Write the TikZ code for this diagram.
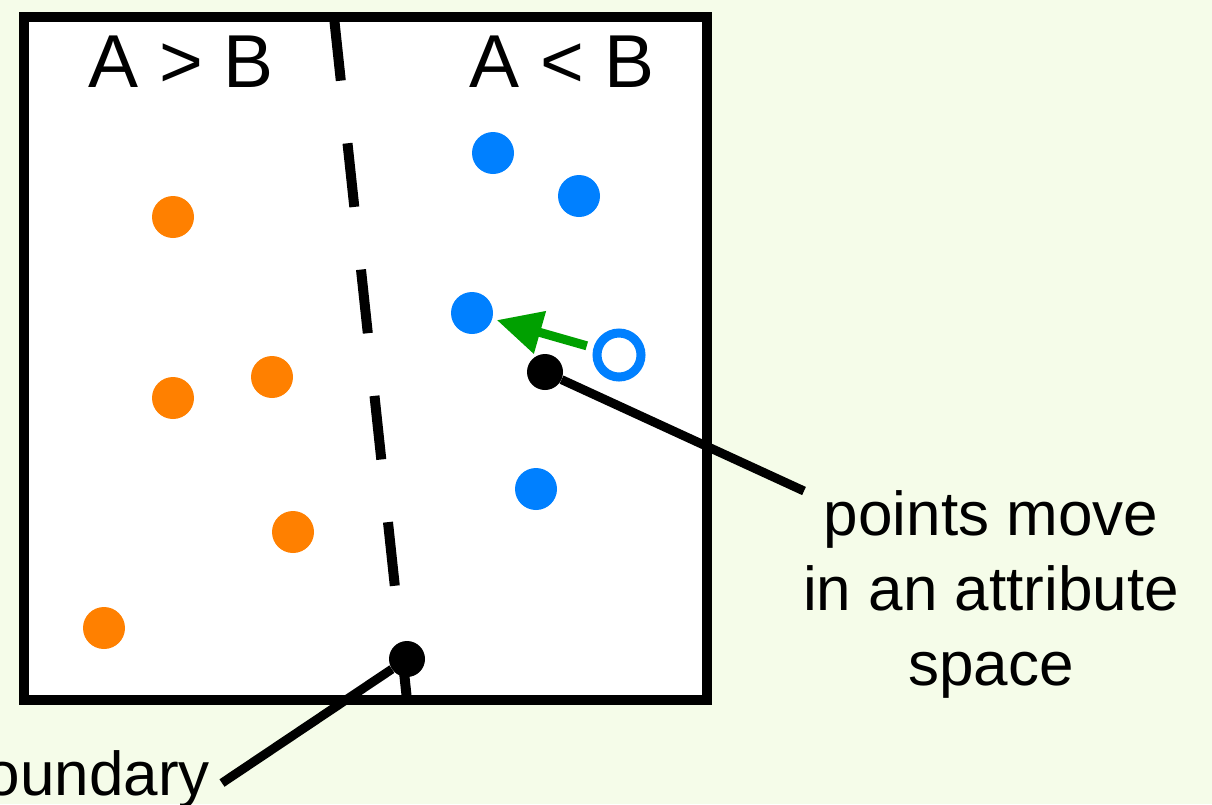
\documentclass[tikz,border=0pt]{standalone}
\usepackage{fontspec}
\setmainfont{Liberation Sans}
\usetikzlibrary{arrows.meta}
\definecolor{bgc}{RGB}{245,252,233}
\definecolor{dotorange}{RGB}{255,128,0}
\definecolor{dotblue}{RGB}{0,128,255}
\definecolor{arrowgreen}{RGB}{0,160,0}
\begin{document}
\begin{tikzpicture}[x=1pt,y=-1pt,
  odot/.style={circle,fill=dotorange,minimum size=42pt,inner sep=0pt},
  bdot/.style={circle,fill=dotblue,minimum size=42pt,inner sep=0pt},
  ringdot/.style={circle,draw=dotblue,line width=9pt,fill=white,minimum size=44pt,inner sep=0pt},
  pindot/.style={circle,fill=black,minimum size=36pt,inner sep=0pt},
  pointer/.style={line width=9pt},
  lbl/.style={font=\fontsize{62}{75}\selectfont,inner sep=0pt},
  head/.style={font=\fontsize{75}{90}\selectfont,inner sep=0pt}
]
\useasboundingbox (0,0) rectangle (1212,804);
\fill[bgc] (0,0) rectangle (1212,804);
\clip (0,0) rectangle (1212,804);

% frame
\draw[line width=10pt,fill=white] (24,17) rectangle (707,700);

% decision boundary (dashed)
\coordinate (btop) at (334,17);
\coordinate (bbot) at (407,700);
\draw[line width=10pt,dash pattern=on 64pt off 63pt] (btop) -- (bbot);

% headings
\node[head,anchor=base] (gt) at (181,87) {A > B};
\node[head,anchor=base] (lt) at (562,87) {A < B};

% orange points
\node[odot] (o1) at (173,217) {};
\node[odot] (o2) at (173,398) {};
\node[odot] (o3) at (272,377) {};
\node[odot] (o4) at (293,532) {};
\node[odot] (o5) at (104,628) {};

% blue points
\node[bdot] (b1) at (493,153) {};
\node[bdot] (b2) at (579,196) {};
\node[bdot] (b3) at (472,313) {};
\node[bdot] (b4) at (536,489) {};
\node[ringdot] (old) at (619,355) {};

% movement arrow
\draw[arrowgreen,line width=9pt,-{Triangle[length=45pt,width=42pt]},
      shorten <=7pt,shorten >=4.5pt] (old) -- (b3);

% pins and pointers
\node[pindot] (ppin) at (545,372) {};
\node[pindot] (bpin) at (407,659) {};
\coordinate (pend) at (804,491);
\coordinate (bend) at (222,783);
\draw[pointer] (ppin) -- (pend);
\draw[pointer] (bpin) -- (bend);

% labels
\node[lbl,align=center] (plbl) at (991,594) {points move\\in an attribute\\space};
\node[lbl,anchor=base east] (blbl) at (210,795) {boundary};
\end{tikzpicture}
\end{document}
